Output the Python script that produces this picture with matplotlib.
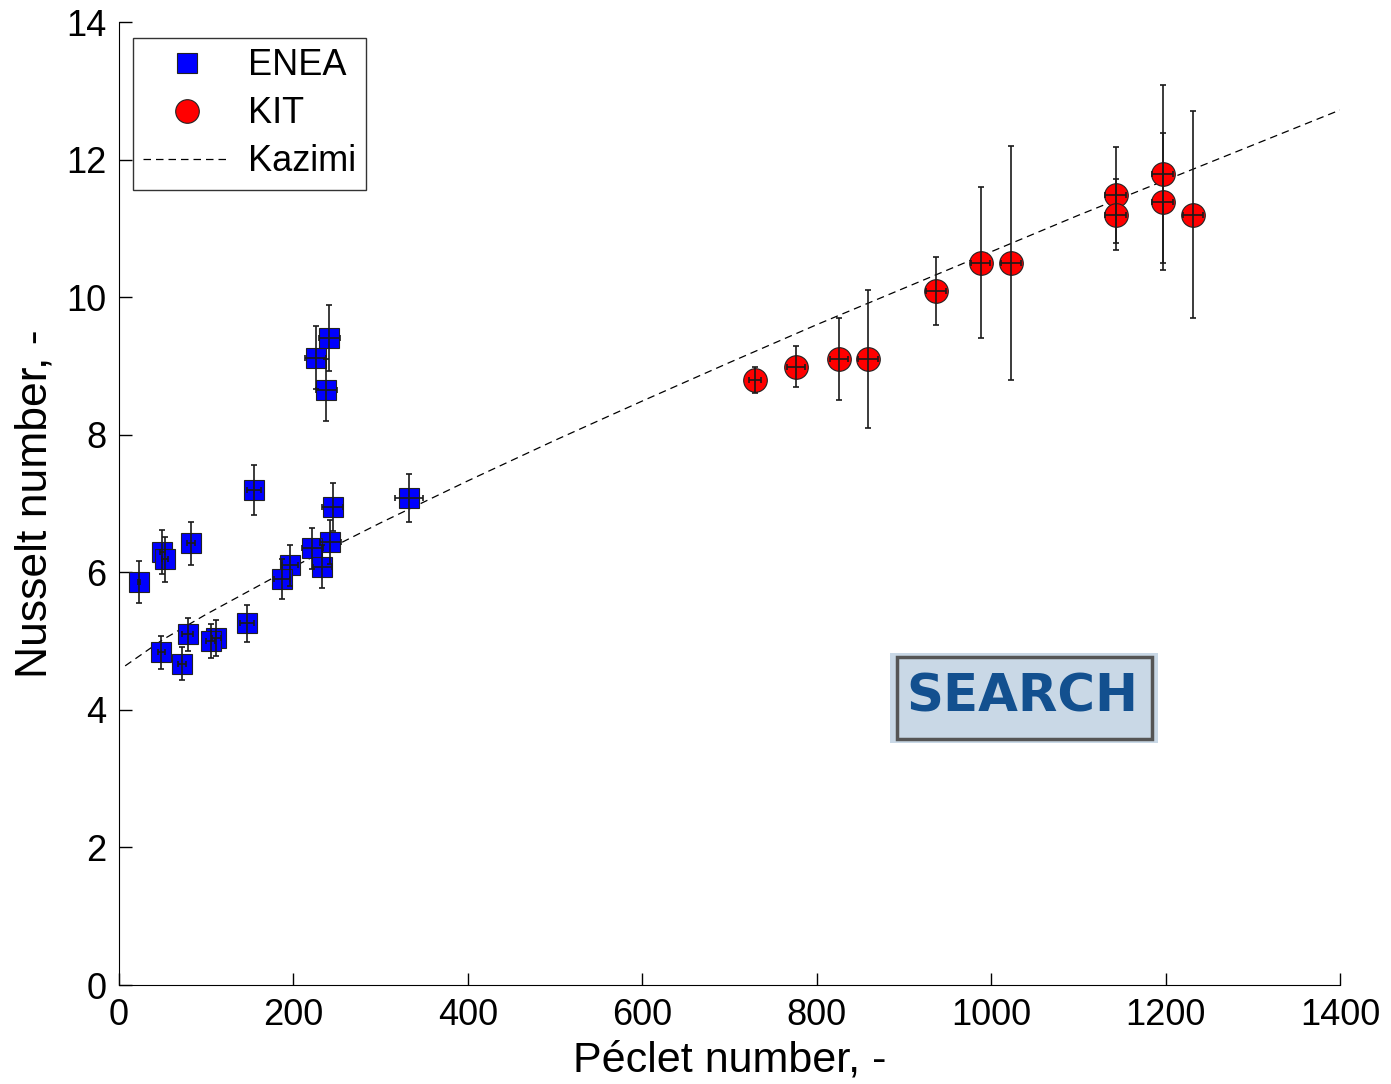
import matplotlib
matplotlib.use("Agg")
import matplotlib.pyplot as plt
from matplotlib.patches import Rectangle

plt.rcParams["font.family"] = ["Liberation Sans", "DejaVu Sans"]

# ENEA data
enea_pe = [240.8, 225.5, 237.4, 154.8, 332.5, 245.0, 242.3, 221.7, 233.2, 196.1, 186.5,
           82.6, 49.7, 52.7, 22.9, 146.4, 78.7, 111.6, 105.1, 48.5, 72.6]
enea_nu = [9.41, 9.12, 8.65, 7.20, 7.08, 6.95, 6.44, 6.35, 6.08, 6.10, 5.90,
           6.42, 6.29, 6.19, 5.86, 5.26, 5.10, 5.05, 5.00, 4.84, 4.67]
enea_nu_err = [0.48, 0.46, 0.45, 0.36, 0.35, 0.35, 0.32, 0.30, 0.31, 0.30, 0.29,
               0.31, 0.32, 0.33, 0.30, 0.27, 0.24, 0.26, 0.25, 0.24, 0.24]
enea_pe_err = [12, 12, 12, 8, 16, 12, 12, 12, 11, 9, 9,
               4.4, 3, 3, 1, 8, 6, 5, 5, 4, 4.6]

# KIT data
kit_pe = [729.3, 776.0, 825.2, 858.4, 936.8, 988.0, 1022.8, 1142.8, 1142.8, 1196.7, 1196.7, 1231.0]
kit_nu = [8.79, 8.99, 9.10, 9.10, 10.09, 10.50, 10.50, 11.49, 11.20, 11.79, 11.39, 11.20]
kit_nu_err = [0.19, 0.30, 0.60, 1.00, 0.50, 1.10, 1.70, 0.70, 0.52, 1.30, 1.00, 1.50]
kit_pe_err = [6.5, 10, 10.5, 11.5, 12, 11, 11, 12, 12, 12, 12, 11.5]

# Kazimi correlation curve
kazimi_pe = [7, 50, 100, 200, 300, 400, 500, 600, 700, 800, 900, 1000, 1100, 1200, 1300, 1400]
kazimi_nu = [4.64, 5.02, 5.39, 6.08, 6.72, 7.33, 7.92, 8.49, 9.05, 9.60, 10.13, 10.66,
             11.19, 11.70, 12.21, 12.72]

x_ticks = [0, 200, 400, 600, 800, 1000, 1200, 1400]
y_ticks = [0, 2, 4, 6, 8, 10, 12, 14]

fig = plt.figure(figsize=(13.91, 10.84), dpi=100)
ax = fig.add_axes([0.0856, 0.0913, 0.8777, 0.8884])

ax.plot(kazimi_pe, kazimi_nu, linestyle=(0, (6, 4)), color="black", linewidth=0.9,
        label="Kazimi", zorder=2)

ax.plot(enea_pe, enea_nu, linestyle="none", marker="s", markersize=15,
        markerfacecolor="#0000ff", markeredgecolor="#222222", markeredgewidth=0.8,
        label="ENEA", zorder=3)
ax.plot(kit_pe, kit_nu, linestyle="none", marker="o", markersize=17,
        markerfacecolor="#ff0000", markeredgecolor="#222222", markeredgewidth=0.8,
        label="KIT", zorder=3)

for pe, nu, pe_err, nu_err in [(enea_pe, enea_nu, enea_pe_err, enea_nu_err),
                               (kit_pe, kit_nu, kit_pe_err, kit_nu_err)]:
    ax.errorbar(pe, nu, xerr=pe_err, yerr=nu_err, fmt="none", ecolor="#1a1a1a",
                elinewidth=1.2, capsize=2, capthick=1.2, zorder=4)

ax.set_xlim(0, 1400)
ax.set_ylim(0, 14)
ax.set_xticks(x_ticks)
ax.set_yticks(y_ticks)
ax.tick_params(direction="in", length=9, width=1, labelsize=26, pad=9)
ax.spines["top"].set_visible(False)
ax.spines["right"].set_visible(False)
ax.set_xlabel("Péclet number, -", fontsize=31, labelpad=6)
ax.set_ylabel("Nusselt number, -", fontsize=32, labelpad=8)

handles, labels = ax.get_legend_handles_labels()
order = [1, 2, 0]
leg = ax.legend([handles[i] for i in order], [labels[i] for i in order],
                loc="upper left", bbox_to_anchor=(0.0115, 0.983), borderaxespad=0,
                fontsize=26, frameon=True, fancybox=False, edgecolor="black",
                handlelength=2.4, labelspacing=0.36, borderpad=0.28, handletextpad=0.5)
leg.get_frame().set_linewidth(1.0)

# SEARCH logo box
fig.patches.append(Rectangle((0.640, 0.3146), 0.1925, 0.083, transform=fig.transFigure,
                             facecolor="#c9d8e6", edgecolor="none", zorder=5))
fig.patches.append(Rectangle((0.6449, 0.3183), 0.1833, 0.0756, transform=fig.transFigure,
                             facecolor="none", edgecolor="#555555", linewidth=2.5, zorder=6))
fig.text(0.7347, 0.3565, "SEARCH", fontsize=37, fontweight="bold", color="#13508f",
         family="DejaVu Sans", ha="center", va="center", zorder=7)

fig.savefig("out.png", dpi=100)
